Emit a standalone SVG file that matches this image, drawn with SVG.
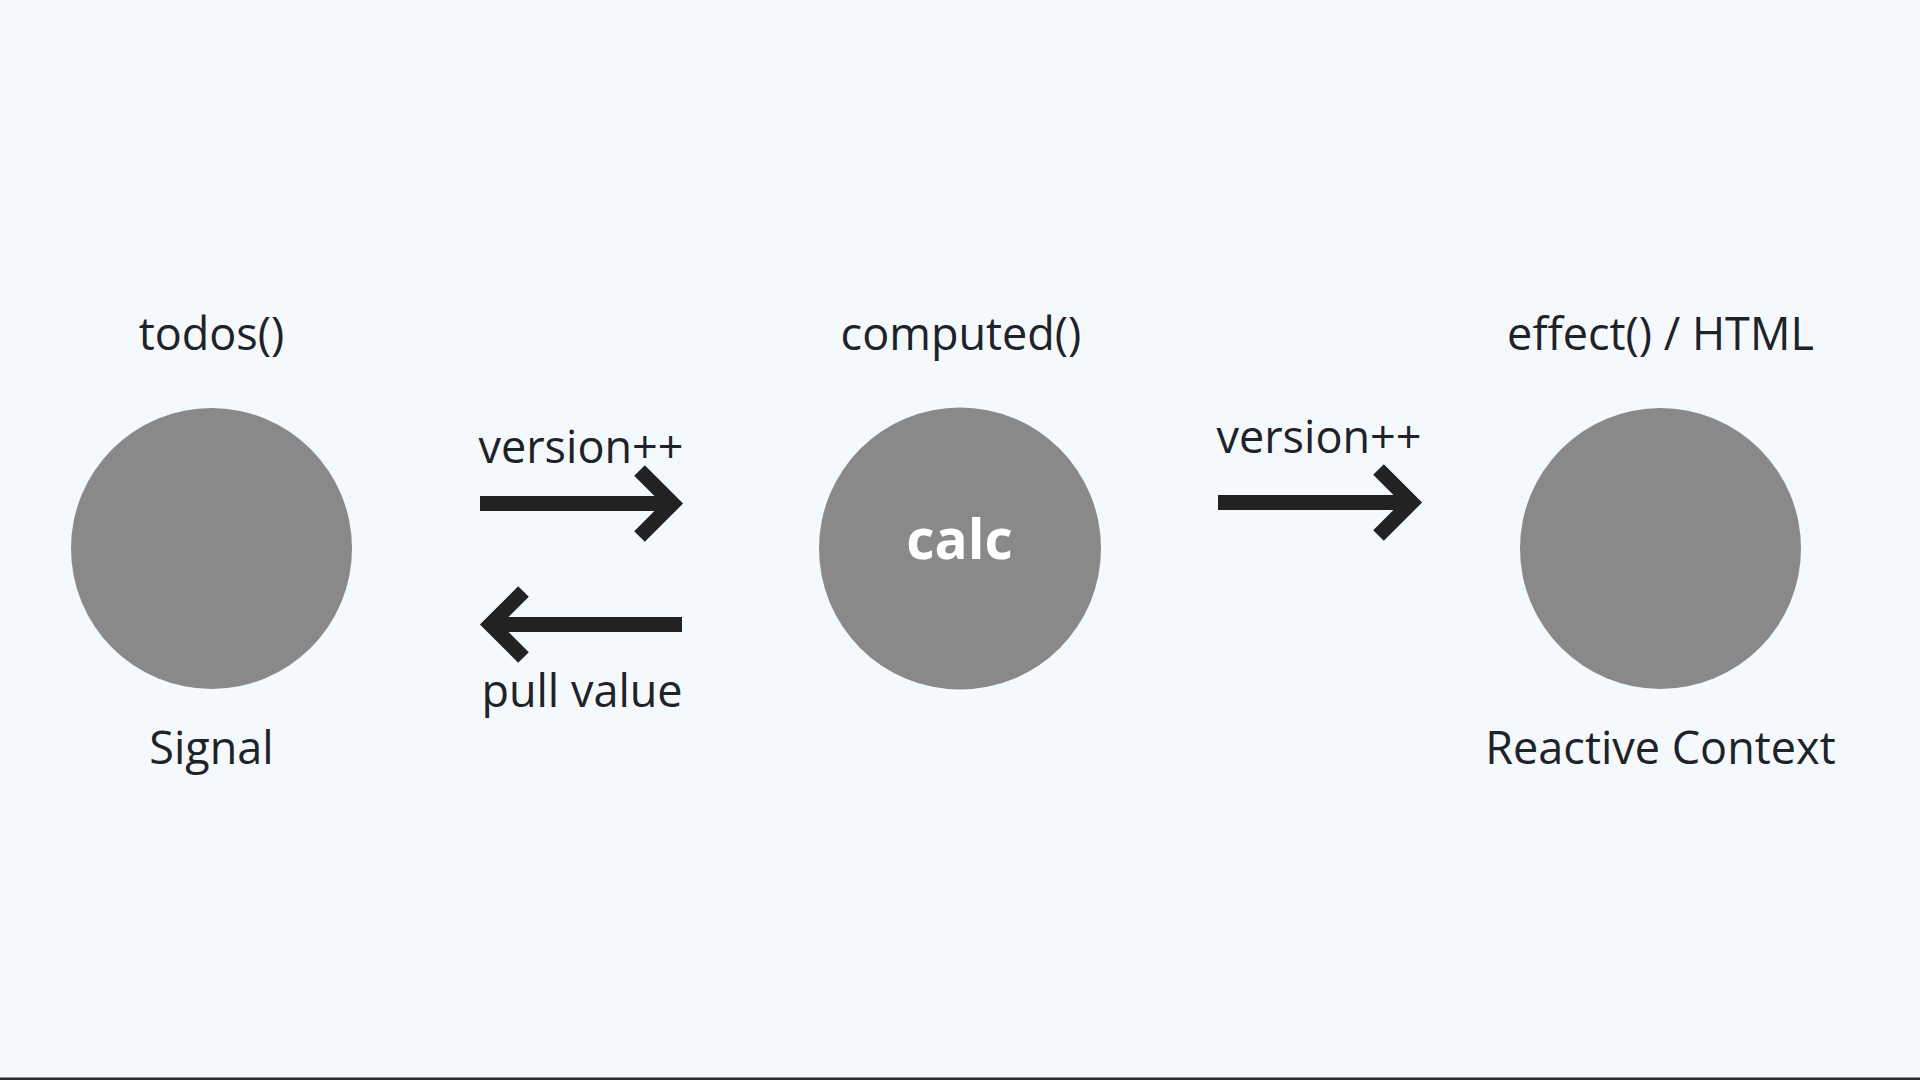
<svg xmlns="http://www.w3.org/2000/svg" width="1920" height="1080" viewBox="0 0 1920 1080">
  <style>
    .node { fill: #898989; }
    .lbl { font-family: "Open Sans", "Noto Sans", "Liberation Sans", sans-serif; font-size: 45px; fill: #1f2226; text-anchor: middle; }
    .inner { font-family: "Open Sans", "Noto Sans", "Liberation Sans", sans-serif; font-size: 55px; font-weight: bold; fill: #ffffff; text-anchor: middle; }
    .arrow { fill: none; stroke: #222222; stroke-width: 15; stroke-linejoin: miter; stroke-linecap: butt; }
  </style>
  <rect x="0" y="0" width="1920" height="1080" fill="#f4f9fe"/>
  <rect x="0" y="1077.5" width="1920" height="2.5" fill="#2b2f33"/>

  <g id="node-signal">
    <text class="lbl" x="211.5" y="350">todos()</text>
    <circle class="node" cx="211.5" cy="548.5" r="140.5"/>
    <text class="lbl" x="211.5" y="764">Signal</text>
  </g>

  <g id="node-computed">
    <text class="lbl" x="961" y="350">computed()</text>
    <circle class="node" cx="960" cy="548.5" r="141"/>
    <text class="inner" x="959.5" y="559">calc</text>
  </g>

  <g id="node-effect">
    <text class="lbl" x="1660.5" y="350">effect() / HTML</text>
    <circle class="node" cx="1660.5" cy="548.5" r="140.5"/>
    <text class="lbl" x="1660.5" y="764">Reactive Context</text>
  </g>

  <g id="connectors">
    <g id="edge-signal-computed">
      <line class="arrow" x1="480" y1="503.5" x2="670" y2="503.5"/>
      <polyline class="arrow" points="639.5,470.5 672.5,503.5 639.5,536.5"/>
      <text class="lbl" x="581" y="463">version++</text>
    </g>
    <g id="edge-computed-signal">
      <line class="arrow" x1="682" y1="624.5" x2="493" y2="624.5"/>
      <polyline class="arrow" points="523.5,591.5 490.5,624.5 523.5,657.5"/>
      <text class="lbl" x="582" y="707">pull value</text>
    </g>
    <g id="edge-computed-effect">
      <line class="arrow" x1="1218" y1="502.5" x2="1409" y2="502.5"/>
      <polyline class="arrow" points="1378.5,469.5 1411.5,502.5 1378.5,535.5"/>
      <text class="lbl" x="1319" y="453">version++</text>
    </g>
  </g>
</svg>
